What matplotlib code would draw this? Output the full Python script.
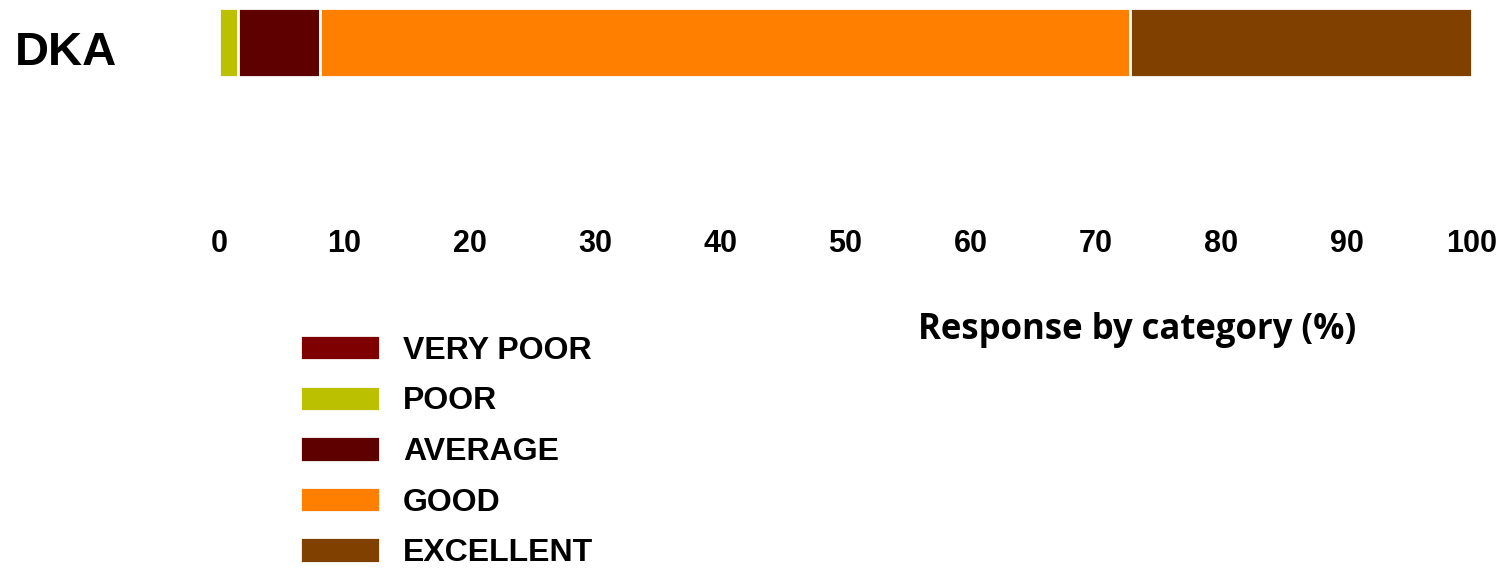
import matplotlib
matplotlib.use("Agg")
import matplotlib.pyplot as plt

category = "DKA"
labels = ["VERY POOR", "POOR", "AVERAGE", "GOOD", "EXCELLENT"]
values = [0.0, 1.5, 6.6, 64.6, 27.3]
colors = ["#7f0000", "#bbc000", "#5e0000", "#ff8000", "#804000"]
ticks = [0, 10, 20, 30, 40, 50, 60, 70, 80, 90, 100]

W, H = 1502, 575
fig = plt.figure(figsize=(W / 100, H / 100), dpi=100)
ax = fig.add_axes([219 / W, 1 - 225 / H, (1472 - 219) / W, 225 / H])

left = 0.0
handles = []
for lab, v, c in zip(labels, values, colors):
    b = ax.barh([0], [v], left=left, height=0.8, color=c, edgecolor="white",
                linewidth=2, label=lab)
    handles.append(b)
    left += v

ax.set_xlim(0, 100)
ax.set_ylim(-2.116, 0.493)
ax.set_yticks([])
ax.set_xticks(ticks)
ax.set_xticklabels([str(t) for t in ticks], fontsize=22, fontweight="bold",
                   family="Liberation Sans")
ax.tick_params(axis="x", length=0, pad=3)
for s in ax.spines.values():
    s.set_visible(False)

fig.text(15 / W, 1 - 53 / H, category, fontsize=34, fontweight="bold",
         family="Liberation Sans", ha="left", va="center")

fig.text(1137 / W, 1 - 330 / H, "Response by category (%)", fontsize=25,
         fontweight="bold", family="Open Sans", ha="center", va="center")

leg = fig.legend(handles=handles, labels=labels, loc="upper left",
                 bbox_to_anchor=(300 / W, 1 - 335 / H), frameon=False,
                 prop={"family": "Liberation Sans", "weight": "bold", "size": 23},
                 handlelength=2.5, handleheight=0.85, labelspacing=0.62,
                 handletextpad=0.72, borderaxespad=0, borderpad=0)

fig.savefig("out.png", dpi=100)
